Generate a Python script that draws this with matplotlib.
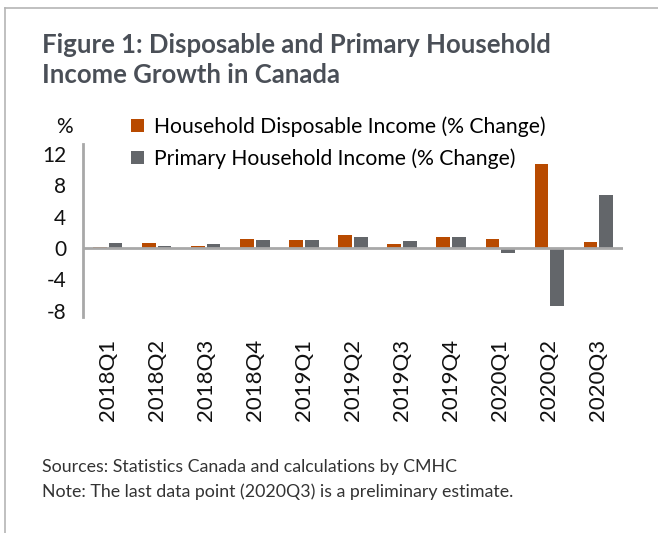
import numpy as np
import matplotlib.pyplot as plt
from matplotlib.lines import Line2D

quarters = ["2018Q1", "2018Q2", "2018Q3", "2018Q4", "2019Q1", "2019Q2",
            "2019Q3", "2019Q4", "2020Q1", "2020Q2", "2020Q3"]
disposable = [0.1, 0.7, 0.3, 1.2, 1.0, 1.65, 0.5, 1.4, 1.2, 10.7, 0.8]
primary = [0.7, 0.3, 0.5, 1.05, 1.1, 1.45, 0.85, 1.45, -0.6, -7.4, 6.8]
yticks = [12, 8, 4, 0, -4, -8]

orange = "#B84A00"
grey = "#63666A"
font = "Lato"

fig = plt.figure(figsize=(6.58, 5.33), dpi=100)

# frame around the figure (left and top only)
fig.add_artist(Line2D([5 / 658, 5 / 658], [0, 1 - 8 / 533], color="#b5b5b5", lw=1.2))
fig.add_artist(Line2D([5 / 658, 1], [1 - 8 / 533, 1 - 8 / 533], color="#b5b5b5", lw=1.2))

fig.text(42 / 658, 1 - 45 / 533, "Figure 1: Disposable and Primary Household",
         fontsize=18.5, fontweight="bold", color="#4a4f57", family=font, va="center")
fig.text(42 / 658, 1 - 75 / 533, "Income Growth in Canada",
         fontsize=18.5, fontweight="bold", color="#4a4f57", family=font, va="center")

ax = fig.add_axes([83 / 658, 1 - 317 / 533, 540 / 658, 173 / 533])
x = np.arange(len(quarters))
w = 0.28
ax.bar(x - 0.16, disposable, w, color=orange, label="Household Disposable Income (% Change)")
ax.bar(x + 0.16, primary, w, color=grey, label="Primary Household Income (% Change)")

ax.set_xlim(-0.5, len(quarters) - 0.5)
ax.set_ylim(-8.8, 13.3)
ax.axhline(0, color="#a8a8a8", lw=2, zorder=3)
for s in ["top", "right", "bottom"]:
    ax.spines[s].set_visible(False)
ax.spines["left"].set_color("#a8a8a8")
ax.spines["left"].set_linewidth(2)

ax.set_yticks(yticks)
ax.set_yticklabels([str(v) for v in yticks], fontsize=15, family=font, color="#111111")
ax.set_xticks(x)
ax.set_xticklabels(quarters, rotation=90, fontsize=16, family=font, color="#111111")
ax.tick_params(length=0)
ax.tick_params(axis="y", pad=12)
ax.tick_params(axis="x", pad=16)

fig.text(64 / 658, 1 - 127 / 533, "%", fontsize=15, family=font, color="#111111",
         ha="center", va="center")

ax.legend(loc="upper left", bbox_to_anchor=(40 / 540, 1.21), frameon=False,
          prop={"family": font, "size": 15.2}, handlelength=0.6, handleheight=0.6,
          handletextpad=0.45, labelspacing=0.55, borderaxespad=0)

fig.text(42 / 658, 1 - 467 / 533, "Sources: Statistics Canada and calculations by CMHC",
         fontsize=12.8, family=font, color="#333333", va="center")
fig.text(42 / 658, 1 - 492 / 533, "Note: The last data point (2020Q3) is a preliminary estimate.",
         fontsize=12.8, family=font, color="#333333", va="center")

fig.savefig("out.png", dpi=100)
